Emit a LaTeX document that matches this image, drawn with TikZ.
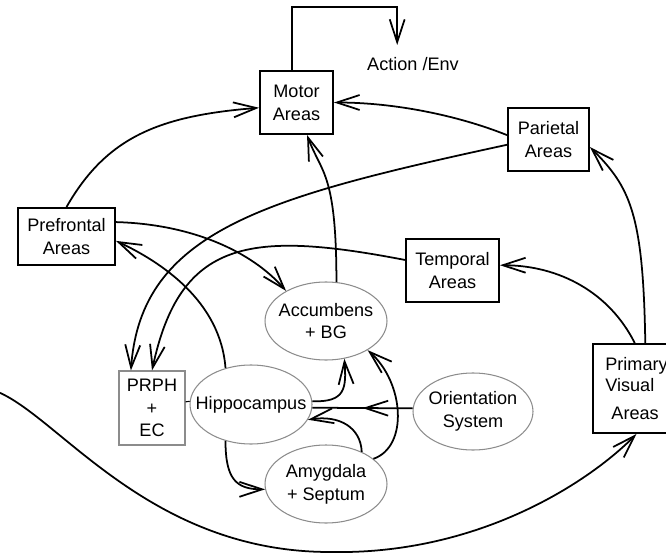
\documentclass[tikz,border=0pt]{standalone}
\usepackage{fontspec}
\setmainfont{Liberation Sans}
\usetikzlibrary{arrows.meta,shapes.geometric,decorations.markings}

\tikzset{
  area/.style={draw, line width=1.1pt, align=center, inner sep=0pt},
  region/.style={ellipse, draw=black!45, line width=0.6pt, align=center,
                 inner xsep=-20pt, inner ysep=-10pt},
  conn/.style={line width=1pt, -{Straight Barb[length=13pt,width=8.5pt]}},
  midconn/.style={line width=1pt, postaction={decorate},
    decoration={markings,
      mark=at position 0.5 with {\arrow{Straight Barb[length=13pt,width=8.5pt]}}}},
}

\begin{document}
\begin{tikzpicture}[x=0.02cm, y=-0.02cm, font=\fontsize{10.3}{13}\selectfont]
  \useasboundingbox (0,0) rectangle (666,554);
  % Cortical areas
  \node[area, minimum width=1.46cm, minimum height=1.26cm] (motor) at (296.5,102.5) {Motor\\Areas};
  \node (action) at (413,64) {Action /Env};
  \node[area, minimum width=1.62cm, minimum height=1.26cm] (parietal) at (548.5,139.5) {Parietal\\Areas};
  \node[area, minimum width=1.94cm, minimum height=1.14cm] (prefrontal) at (66.5,236.5) {Prefrontal\\Areas};
  \node[area, minimum width=1.86cm, minimum height=1.26cm] (temporal) at (452.5,270.5) {Temporal\\Areas};
  \node[area, draw=black!45, line width=0.6pt, minimum width=1.32cm, minimum height=1.48cm]
    (prph) at (152,408) {PRPH\\+\\EC};
  \node[area, align=left, minimum width=1.74cm, minimum height=1.78cm] (primary) at (636.5,388.5)
    {Primary\\[-1.5pt]Visual\\[3pt]\hspace*{3.5pt}Areas};
  % Subcortical
  \node[region, minimum width=2.44cm, minimum height=1.56cm] (accumbens) at (326,321) {Accumbens\\+ BG};
  \node[region, minimum width=2.44cm, minimum height=1.58cm] (hippo) at (251,404.5) {Hippocampus};
  \node[region, minimum width=2.4cm, minimum height=1.54cm] (orient) at (473,411.5) {Orientation\\System};
  \node[region, minimum width=2.44cm, minimum height=1.56cm] (amyg) at (326,484) {Amygdala\\+ Septum};
  % Motor output
  \draw[conn] ([xshift=-2.5pt]motor.north) -- ++(0,-63) -| ([xshift=-9pt,yshift=3.5pt]action.north);
  \draw[conn] (prefrontal.north) .. controls +(40,-70) and +(-100,8) .. ([yshift=-3pt]motor.west);
  \draw[conn] ([yshift=2.5pt]parietal.west) .. controls +(-50,-20) and +(60,0) .. (motor.east);
  \draw[conn] (accumbens.75) .. controls +(0,-110) and +(14,38) .. ([xshift=6pt]motor.south);
  % Into PRPH
  \draw[conn] ([yshift=-3pt]parietal.west) .. controls +(-240,52) and +(10,-140) .. ([xshift=-12pt]prph.north);
  \draw[conn] ([yshift=6pt]temporal.west) .. controls +(-156,-30) and +(28,-131) .. (prph.north);
  % Visual stream
  \draw[conn] ([xshift=5pt]primary.north) .. controls +(-2,-130) and +(40,40) .. ([yshift=-4.3pt]parietal.east);
  \draw[conn] ([xshift=-1pt]primary.north) .. controls +(-25,-50) and +(60,0) .. ([yshift=3pt]temporal.east);
  % Prefrontal loop
  \draw[conn] ([yshift=8.2pt]prefrontal.east) .. controls +(75,2) and +(-35,-40) .. (accumbens.143);
  \draw[conn] (hippo.125) .. controls +(-5,-67) and +(45,21) .. ([yshift=-2.5pt]prefrontal.east);
  % Limbic
  \draw[conn] (hippo.3) .. controls +(33,1) and +(2,30) .. (accumbens.-64);
  \draw[midconn] (orient.177) -- (hippo.-3);
  \draw[conn] (amyg.42) .. controls +(-1,-24) and +(32,-5) .. (hippo.-15);
  \draw[conn] (amyg.28) .. controls +(35,-12) and +(37,33) .. (accumbens.-35);
  \draw[conn] (hippo.235) .. controls +(0,38) and +(-29,0) .. (amyg.185);
  \draw[line width=0.6pt] ([yshift=3.5pt]prph.east) -- (hippo.177);
  % Environment to retina
  \coordinate (eye) at (-2,392);
  \draw[conn] (eye) .. controls +(62,26) and +(-180,0) .. (330,552)
    .. controls +(150,3) and +(-46.5,47) .. (primary.south);
\end{tikzpicture}
\end{document}
